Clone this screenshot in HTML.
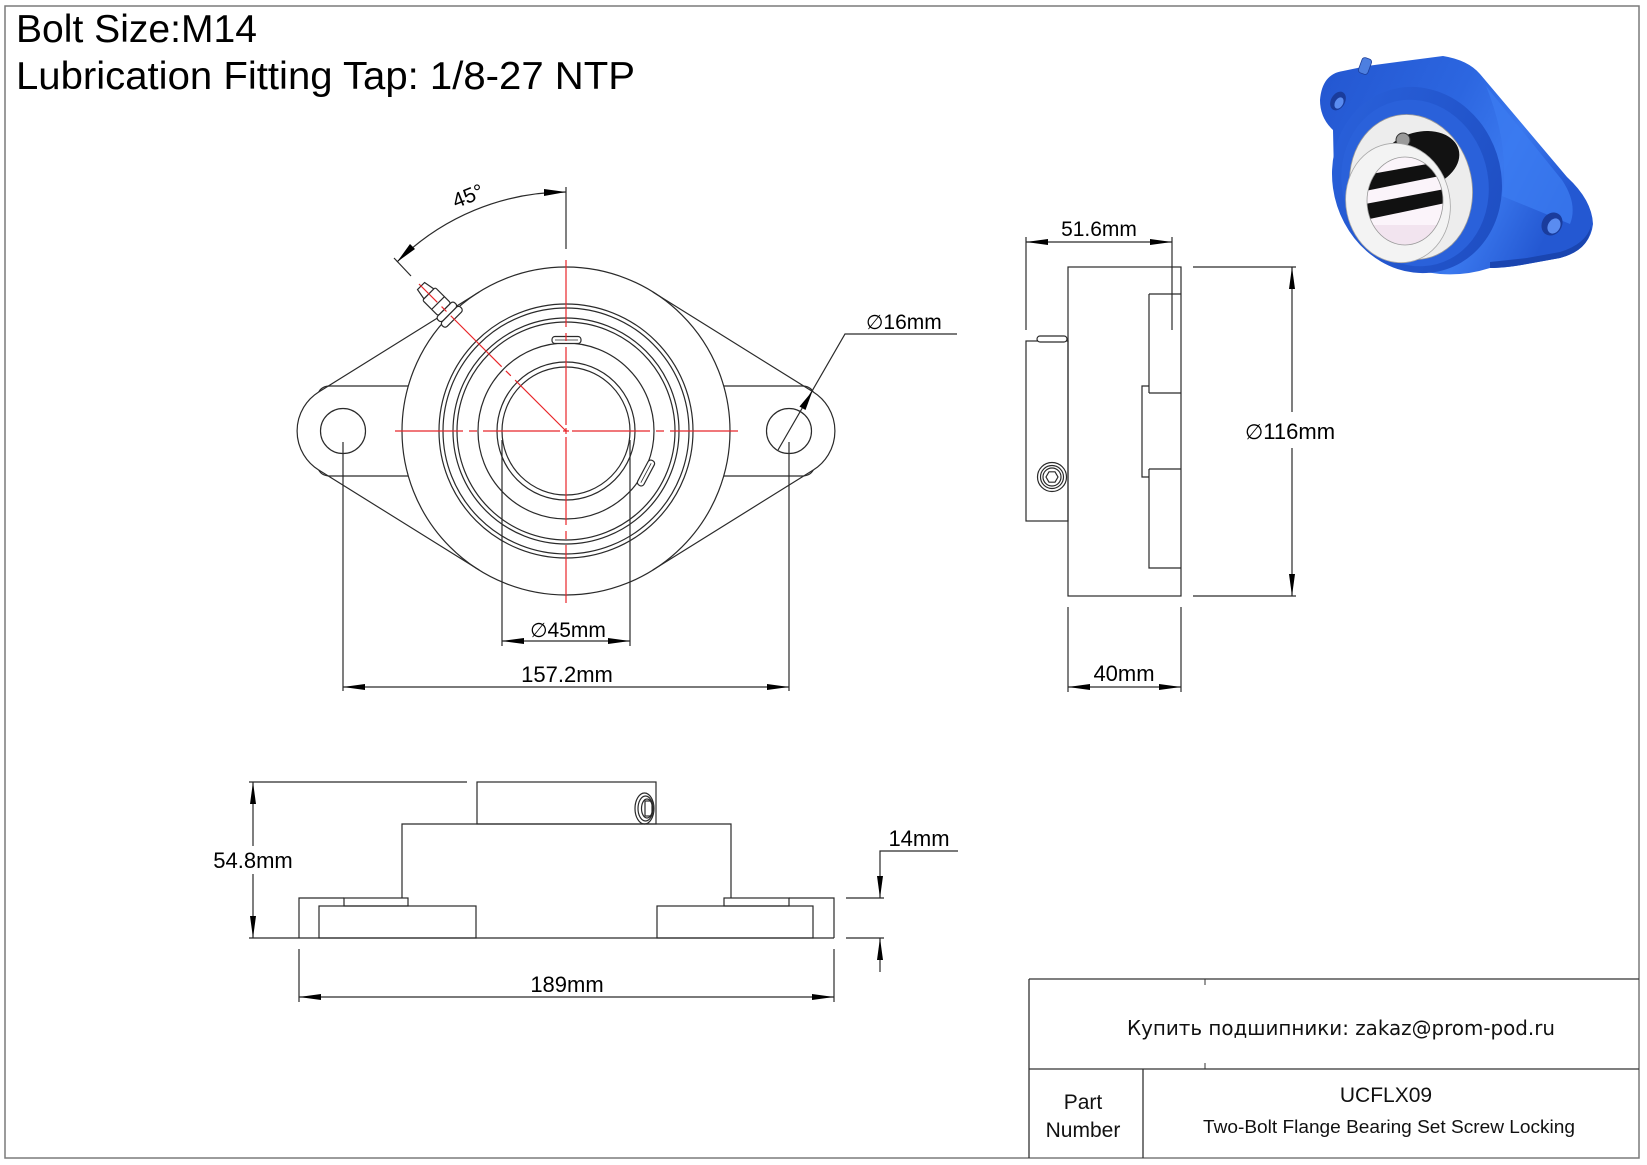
<!DOCTYPE html>
<html>
<head>
<meta charset="utf-8">
<style>
html,body{margin:0;padding:0;background:#fff;}
svg{display:block;}
</style>
</head>
<body>
<svg xmlns="http://www.w3.org/2000/svg" width="1647" height="1165" viewBox="0 0 1647 1165" font-family="'Liberation Sans', Arial, sans-serif">
<defs>
  <linearGradient id="gBody" x1="0" y1="0" x2="1" y2="0.4">
    <stop offset="0" stop-color="#2356d0"/>
    <stop offset="0.5" stop-color="#2c66e0"/>
    <stop offset="0.75" stop-color="#3a78ee"/>
    <stop offset="1" stop-color="#2458d2"/>
  </linearGradient>
  <linearGradient id="gFace" x1="0" y1="0" x2="1" y2="1">
    <stop offset="0" stop-color="#2a62dc"/>
    <stop offset="1" stop-color="#1d4cc0"/>
  </linearGradient>
  <clipPath id="boreClip"><ellipse cx="1405" cy="201" rx="38" ry="44"/></clipPath>
</defs>

<!-- page border -->
<rect x="5" y="6" width="1634" height="1152" fill="none" stroke="#7a7a7a" stroke-width="1.5"/>

<!-- header text -->
<text x="16" y="42" font-size="39" fill="#000" textLength="241" lengthAdjust="spacingAndGlyphs">Bolt Size:M14</text>
<text x="16" y="89" font-size="39" fill="#000" textLength="619" lengthAdjust="spacingAndGlyphs">Lubrication Fitting Tap: 1/8-27 NTP</text>

<!-- ================= FRONT VIEW ================= -->
<g fill="none" stroke="#2a2a2a" stroke-width="1.2">
  <circle cx="566" cy="431" r="164"/>
  <circle cx="566" cy="431" r="127"/>
  <circle cx="566" cy="431" r="123"/>
  <circle cx="566" cy="431" r="113"/>
  <circle cx="566" cy="431" r="109"/>
  <circle cx="566" cy="431" r="88"/>
  <circle cx="566" cy="431" r="69"/>
  <circle cx="566" cy="431" r="64"/>
  <!-- flange outline -->
  <path d="M479.2,292 L318.7,392 A46,46 0 0 0 318.7,470 L479.2,570"/>
  <path d="M652.8,292 L813.3,392 A46,46 0 0 1 813.3,470 L652.8,570"/>
  <path d="M408,386 L330,386 Q322,386 318.7,392"/>
  <path d="M408,476 L330,476 Q322,476 318.7,470"/>
  <path d="M724,386 L802,386 Q810,386 813.3,392"/>
  <path d="M724,476 L802,476 Q810,476 813.3,470"/>
  <!-- holes -->
  <circle cx="343" cy="431" r="22.5"/>
  <circle cx="789" cy="431" r="22.5"/>
  <!-- set screw nubs -->
  <rect x="552" y="336.5" width="29" height="7" rx="3" fill="#fff"/>
  <line x1="555" y1="340" x2="578" y2="340" stroke-width="0.8"/>
  <g transform="translate(646,473) rotate(-62)">
    <rect x="-14" y="-3.5" width="28" height="7" rx="3" fill="#fff"/>
    <line x1="-11" y1="0" x2="11" y2="0" stroke-width="0.8"/>
  </g>
  <!-- grease fitting -->
  <g transform="translate(566,431) rotate(-135)" fill="#fff">
    <rect x="158" y="-13" width="7" height="26" rx="3"/>
    <rect x="165" y="-12" width="7" height="24" rx="3"/>
    <rect x="172" y="-9" width="22" height="18" rx="2"/>
    <line x1="181" y1="-9" x2="181" y2="9"/>
    <path d="M194,-7 L205,-5 L205,5 L194,7 Z"/>
  </g>
  <!-- bore extension lines (Ø45) -->
  <line x1="502" y1="440" x2="502" y2="646"/>
  <line x1="630" y1="440" x2="630" y2="646"/>
  <!-- hole extension lines (157.2) -->
  <line x1="343" y1="442" x2="343" y2="691"/>
  <line x1="789" y1="442" x2="789" y2="691"/>
  <!-- Ø45 dim line -->
  <line x1="502" y1="641" x2="630" y2="641"/>
  <!-- 157.2 dim line -->
  <line x1="343" y1="687" x2="789" y2="687"/>
  <!-- 45° dimension -->
  <line x1="566" y1="187" x2="566" y2="249"/>
  <line x1="394" y1="258" x2="411" y2="276"/>
  <path d="M566,192 A239,239 0 0 0 397,262"/>
  <!-- Ø16 leader -->
  <polyline points="778,450 845,334 957,334"/>
</g>

<!-- red center lines -->
<g stroke="#e8262a" stroke-width="1.2" fill="none">
  <path d="M395,431 H463 M469,431 H477 M483,431 H560 M563,431 H569 M572,431 H650 M656,431 H664 M670,431 H738"/>
  <path d="M566,260 V327 M566,333 V341 M566,347 V425 M566,428 V434 M566,437 V525 M566,531 V539 M566,545 V603"/>
  <path d="M566,431 L419,284" stroke-dasharray="72 6 7 6"/>
</g>

<!-- arrows front view -->
<g fill="#000" stroke="none">
  <polygon points="502,641 524,638 524,644"/>
  <polygon points="630,641 608,638 608,644"/>
  <polygon points="343,687 365,684 365,690"/>
  <polygon points="789,687 767,684 767,690"/>
  <polygon points="566,192 544,189 544,196"/>
  <polygon points="397,262 415,249 410,244"/>
  <polygon points="812.5,391 805.5,410 799.5,406.5"/>
</g>

<!-- front view texts -->
<g font-size="21" fill="#000">
  <text x="468" y="203" text-anchor="middle" transform="rotate(-22 468 196)">45°</text>
  <text x="568" y="637" text-anchor="middle"><tspan font-family="'DejaVu Sans', sans-serif" font-size="20">∅</tspan>45mm</text>
  <text x="567" y="682" text-anchor="middle" font-size="22">157.2mm</text>
  <text x="866" y="329"><tspan font-family="'DejaVu Sans', sans-serif" font-size="20">∅</tspan>16mm</text>
</g>

<!-- ================= SIDE VIEW ================= -->
<g fill="none" stroke="#2a2a2a" stroke-width="1.2">
  <rect x="1068" y="267" width="113" height="329"/>
  <rect x="1026" y="341" width="42" height="180"/>
  <rect x="1037" y="336" width="30" height="6" rx="3" fill="#fff"/>
  <circle cx="1052" cy="477" r="14.5"/>
  <circle cx="1052" cy="477" r="11.5"/>
  <circle cx="1052" cy="477" r="9"/>
  <polygon points="1058,477 1055,482.2 1049,482.2 1046,477 1049,471.8 1055,471.8"/>
  <path d="M1149,294 H1181 M1149,294 V393 M1149,393 H1181 M1149,386 H1142 V477 H1149 M1149,469 H1181 M1149,469 V568 H1181"/>
  <!-- 51.6 -->
  <line x1="1026" y1="237" x2="1026" y2="330"/>
  <line x1="1172" y1="237" x2="1172" y2="330"/>
  <line x1="1026" y1="242" x2="1172" y2="242"/>
  <!-- 116 -->
  <line x1="1193" y1="267" x2="1296" y2="267"/>
  <line x1="1193" y1="596" x2="1296" y2="596"/>
  <line x1="1292" y1="267" x2="1292" y2="412"/>
  <line x1="1292" y1="448" x2="1292" y2="596"/>
  <!-- 40 -->
  <line x1="1068" y1="607" x2="1068" y2="692"/>
  <line x1="1181" y1="607" x2="1181" y2="692"/>
  <line x1="1068" y1="687" x2="1181" y2="687"/>
</g>
<g fill="#000">
  <polygon points="1026,242 1048,239 1048,245"/>
  <polygon points="1172,242 1150,239 1150,245"/>
  <polygon points="1292,267 1289,289 1295,289"/>
  <polygon points="1292,596 1289,574 1295,574"/>
  <polygon points="1068,687 1090,684 1090,690"/>
  <polygon points="1181,687 1159,684 1159,690"/>
</g>
<g font-size="21" fill="#000">
  <text x="1099" y="236" text-anchor="middle">51.6mm</text>
  <text x="1245" y="439" font-size="22"><tspan font-family="'DejaVu Sans', sans-serif" font-size="21">∅</tspan>116mm</text>
  <text x="1124" y="681" text-anchor="middle" font-size="22">40mm</text>
</g>

<!-- ================= BOTTOM VIEW ================= -->
<g fill="none" stroke="#2a2a2a" stroke-width="1.2">
  <line x1="249" y1="782" x2="467" y2="782"/>
  <rect x="477" y="782" width="179" height="42"/>
  <ellipse cx="644.5" cy="808.5" rx="9.5" ry="15.5"/>
  <ellipse cx="645.5" cy="808.5" rx="7.5" ry="12.5"/>
  <ellipse cx="647" cy="808.5" rx="5.5" ry="9.5"/>
  <rect x="645" y="801" width="7" height="15"/>
  <path d="M402,898 V824 H731 V898"/>
  <rect x="344" y="898" width="64" height="8"/>
  <rect x="724" y="898" width="65" height="8"/>
  <path d="M344,898 H299 V938"/>
  <path d="M789,898 H834 V938"/>
  <rect x="319" y="906" width="157" height="32"/>
  <rect x="657" y="906" width="156" height="32"/>
  <line x1="249" y1="938" x2="834" y2="938"/>
  <!-- 54.8 -->
  <line x1="253" y1="782" x2="253" y2="846"/>
  <line x1="253" y1="874" x2="253" y2="938"/>
  <!-- 189 -->
  <line x1="299" y1="949" x2="299" y2="1002"/>
  <line x1="834" y1="949" x2="834" y2="1002"/>
  <line x1="299" y1="997" x2="834" y2="997"/>
  <!-- 14 -->
  <line x1="846" y1="898" x2="884" y2="898"/>
  <line x1="846" y1="938" x2="884" y2="938"/>
  <polyline points="958,851 880,851 880,898"/>
  <line x1="880" y1="938" x2="880" y2="972"/>
</g>
<g fill="#000">
  <polygon points="253,782 250,804 256,804"/>
  <polygon points="253,938 250,916 256,916"/>
  <polygon points="299,997 321,994 321,1000"/>
  <polygon points="834,997 812,994 812,1000"/>
  <polygon points="880,898 877,876 883,876"/>
  <polygon points="880,938 877,960 883,960"/>
</g>
<g font-size="22" fill="#000">
  <text x="253" y="868" text-anchor="middle">54.8mm</text>
  <text x="567" y="992" text-anchor="middle">189mm</text>
  <text x="919" y="846" text-anchor="middle">14mm</text>
</g>

<!-- ================= TITLE BLOCK ================= -->
<g fill="none" stroke="#333" stroke-width="1.3">
  <line x1="1029" y1="979" x2="1639" y2="979"/>
  <line x1="1029" y1="1069" x2="1639" y2="1069"/>
  <line x1="1029" y1="979" x2="1029" y2="1158"/>
  <line x1="1143" y1="1069" x2="1143" y2="1158"/>
  <line x1="1205" y1="979" x2="1205" y2="985" stroke-width="1"/>
  <line x1="1205" y1="1063" x2="1205" y2="1069" stroke-width="1"/>
</g>
<text x="1341" y="1035" text-anchor="middle" font-family="'DejaVu Sans', sans-serif" font-size="20" fill="#111" textLength="428" lengthAdjust="spacingAndGlyphs">Купить подшипники: zakaz@prom-pod.ru</text>
<text x="1083" y="1109" text-anchor="middle" font-size="21" fill="#111">Part</text>
<text x="1083" y="1137" text-anchor="middle" font-size="21" fill="#111">Number</text>
<text x="1386" y="1102" text-anchor="middle" font-size="21" fill="#111">UCFLX09</text>
<text x="1389" y="1133" text-anchor="middle" font-size="18" fill="#111" textLength="372" lengthAdjust="spacingAndGlyphs">Two-Bolt Flange Bearing Set Screw Locking</text>

<!-- ================= 3D ICON ================= -->
<g>
  <!-- silhouette / flange -->
  <path d="M1320,100 Q1322,74 1343,71 L1367,66 L1443,56 Q1468,60 1480,74 L1567,177 Q1592,200 1593,224 Q1590,250 1560,258 L1527,264 Q1505,268 1490,268 Q1465,276 1440,274 Q1395,270 1365,245 Q1340,215 1334,175 L1333,130 Q1320,118 1320,100 Z" fill="url(#gBody)"/>
  <!-- lower flange thickness shading -->
  <path d="M1490,262 L1527,258 L1560,252 Q1586,244 1591,226 Q1590,250 1560,258 L1527,264 Q1505,268 1490,268 Z" fill="#1a45b0"/>
  <!-- web highlight -->
  <path d="M1486,86 L1562,180 Q1578,204 1570,224 L1502,196 Q1510,146 1486,86 Z" fill="#3b7af0" opacity="0.8"/>
  <!-- grease nub -->
  <rect x="1360" y="58" width="10" height="16" rx="3" fill="#4d7fe0" stroke="#1d3f9a" stroke-width="0.8" transform="rotate(20 1365 66)"/>
  <!-- ear holes -->
  <ellipse cx="1338" cy="101" rx="7" ry="10" transform="rotate(30 1338 101)" fill="#1a3c9c"/>
  <ellipse cx="1339" cy="103" rx="4" ry="6" transform="rotate(30 1339 103)" fill="#5a8cf0"/>
  <ellipse cx="1552" cy="224" rx="10" ry="12" transform="rotate(30 1552 224)" fill="#1a3c9c"/>
  <ellipse cx="1554" cy="226" rx="6" ry="8" transform="rotate(30 1554 226)" fill="#5a8cf0"/>
  <!-- housing front face -->
  <ellipse cx="1417" cy="180" rx="84" ry="94" transform="rotate(-18 1417 180)" fill="url(#gFace)"/>
  <ellipse cx="1415" cy="183" rx="73" ry="84" transform="rotate(-15 1415 183)" fill="#2a61da"/>
  <!-- bearing outer ring -->
  <ellipse cx="1411" cy="187" rx="61" ry="73" transform="rotate(-12 1411 187)" fill="#ededed" stroke="#9a9a9a" stroke-width="0.8"/>
  <!-- dark inner band -->
  <ellipse cx="1420" cy="160" rx="40" ry="28" transform="rotate(-15 1420 160)" fill="#121212"/>
  <circle cx="1403" cy="140" r="7" fill="#9a9a9a" stroke="#333" stroke-width="1"/>
  <!-- collar -->
  <ellipse cx="1398" cy="203" rx="52" ry="60" transform="rotate(-12 1398 203)" fill="#f3f3f3" stroke="#a8a8a8" stroke-width="0.8"/>
  <!-- bore -->
  <ellipse cx="1405" cy="201" rx="38" ry="44" fill="#fbf4fa"/>
  <g clip-path="url(#boreClip)">
    <polygon points="1360,176 1450,160 1450,174 1360,192" fill="#111"/>
    <polygon points="1360,205 1450,188 1450,202 1360,221" fill="#111"/>
    <rect x="1360" y="225" width="90" height="25" fill="#f2e4ef"/>
  </g>
  <ellipse cx="1405" cy="201" rx="38" ry="44" fill="none" stroke="#999" stroke-width="0.8"/>
</g>
</svg>
</body>
</html>
